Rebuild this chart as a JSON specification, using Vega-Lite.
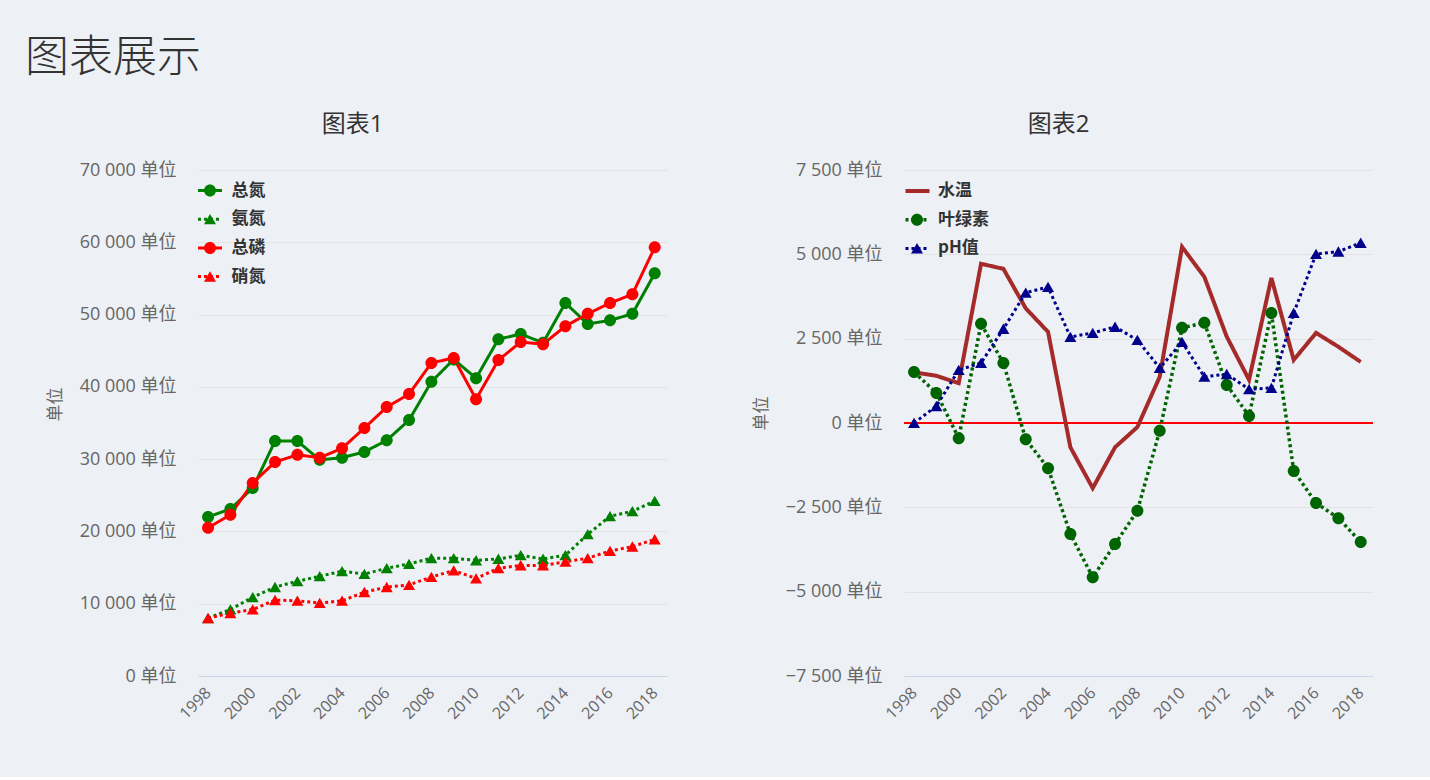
{
  "$schema": "https://vega.github.io/schema/vega-lite/v6.json",
  "background": "#edf0f5",
  "padding": {"left": 25, "top": 37, "right": 59, "bottom": 55},
  "title": {"text": "图表展示", "anchor": "start", "dx": -21, "fontSize": 44, "font": "Noto Sans CJK SC", "fontWeight": 300, "color": "#333333", "offset": 32},
  "config": {
    "view": {"stroke": null},
    "font": "Open Sans, Noto Sans CJK SC",
    "axis": {"labelColor": "#666666", "titleColor": "#666666", "labelFont": "Open Sans, Noto Sans CJK SC", "titleFont": "Noto Sans CJK SC"},
    "legend": {"labelFont": "Noto Sans CJK SC", "labelColor": "#333333", "clipHeight": 28, "rowPadding": 0.7, "padding": 0, "labelFontSize": 17, "labelFontWeight": "bold", "symbolSize": 576, "symbolStrokeWidth": 3}
  },
  "datasets": {
    "left": [
      {"year": 1998, "series": "总氮", "value": 22000}, {"year": 1999, "series": "总氮", "value": 23100}, {"year": 2000, "series": "总氮", "value": 26000}, {"year": 2001, "series": "总氮", "value": 32500}, {"year": 2002, "series": "总氮", "value": 32500}, {"year": 2003, "series": "总氮", "value": 29900}, {"year": 2004, "series": "总氮", "value": 30200}, {"year": 2005, "series": "总氮", "value": 31000}, {"year": 2006, "series": "总氮", "value": 32600}, {"year": 2007, "series": "总氮", "value": 35400}, {"year": 2008, "series": "总氮", "value": 40700}, {"year": 2009, "series": "总氮", "value": 43800}, {"year": 2010, "series": "总氮", "value": 41200}, {"year": 2011, "series": "总氮", "value": 46600}, {"year": 2012, "series": "总氮", "value": 47300}, {"year": 2013, "series": "总氮", "value": 46100}, {"year": 2014, "series": "总氮", "value": 51600}, {"year": 2015, "series": "总氮", "value": 48700}, {"year": 2016, "series": "总氮", "value": 49200}, {"year": 2017, "series": "总氮", "value": 50100}, {"year": 2018, "series": "总氮", "value": 55700},
      {"year": 1998, "series": "氨氮", "value": 8000}, {"year": 1999, "series": "氨氮", "value": 9200}, {"year": 2000, "series": "氨氮", "value": 10900}, {"year": 2001, "series": "氨氮", "value": 12300}, {"year": 2002, "series": "氨氮", "value": 13100}, {"year": 2003, "series": "氨氮", "value": 13800}, {"year": 2004, "series": "氨氮", "value": 14500}, {"year": 2005, "series": "氨氮", "value": 14100}, {"year": 2006, "series": "氨氮", "value": 14900}, {"year": 2007, "series": "氨氮", "value": 15500}, {"year": 2008, "series": "氨氮", "value": 16300}, {"year": 2009, "series": "氨氮", "value": 16300}, {"year": 2010, "series": "氨氮", "value": 16000}, {"year": 2011, "series": "氨氮", "value": 16200}, {"year": 2012, "series": "氨氮", "value": 16700}, {"year": 2013, "series": "氨氮", "value": 16200}, {"year": 2014, "series": "氨氮", "value": 16700}, {"year": 2015, "series": "氨氮", "value": 19600}, {"year": 2016, "series": "氨氮", "value": 22100}, {"year": 2017, "series": "氨氮", "value": 22800}, {"year": 2018, "series": "氨氮", "value": 24200},
      {"year": 1998, "series": "总磷", "value": 20500}, {"year": 1999, "series": "总磷", "value": 22300}, {"year": 2000, "series": "总磷", "value": 26700}, {"year": 2001, "series": "总磷", "value": 29600}, {"year": 2002, "series": "总磷", "value": 30600}, {"year": 2003, "series": "总磷", "value": 30200}, {"year": 2004, "series": "总磷", "value": 31500}, {"year": 2005, "series": "总磷", "value": 34300}, {"year": 2006, "series": "总磷", "value": 37200}, {"year": 2007, "series": "总磷", "value": 39000}, {"year": 2008, "series": "总磷", "value": 43300}, {"year": 2009, "series": "总磷", "value": 44000}, {"year": 2010, "series": "总磷", "value": 38300}, {"year": 2011, "series": "总磷", "value": 43700}, {"year": 2012, "series": "总磷", "value": 46200}, {"year": 2013, "series": "总磷", "value": 45900}, {"year": 2014, "series": "总磷", "value": 48400}, {"year": 2015, "series": "总磷", "value": 50100}, {"year": 2016, "series": "总磷", "value": 51600}, {"year": 2017, "series": "总磷", "value": 52800}, {"year": 2018, "series": "总磷", "value": 59300},
      {"year": 1998, "series": "硝氮", "value": 8000}, {"year": 1999, "series": "硝氮", "value": 8700}, {"year": 2000, "series": "硝氮", "value": 9200}, {"year": 2001, "series": "硝氮", "value": 10500}, {"year": 2002, "series": "硝氮", "value": 10400}, {"year": 2003, "series": "硝氮", "value": 10100}, {"year": 2004, "series": "硝氮", "value": 10400}, {"year": 2005, "series": "硝氮", "value": 11600}, {"year": 2006, "series": "硝氮", "value": 12300}, {"year": 2007, "series": "硝氮", "value": 12600}, {"year": 2008, "series": "硝氮", "value": 13700}, {"year": 2009, "series": "硝氮", "value": 14600}, {"year": 2010, "series": "硝氮", "value": 13500}, {"year": 2011, "series": "硝氮", "value": 14900}, {"year": 2012, "series": "硝氮", "value": 15300}, {"year": 2013, "series": "硝氮", "value": 15300}, {"year": 2014, "series": "硝氮", "value": 15800}, {"year": 2015, "series": "硝氮", "value": 16300}, {"year": 2016, "series": "硝氮", "value": 17300}, {"year": 2017, "series": "硝氮", "value": 17900}, {"year": 2018, "series": "硝氮", "value": 18900}
    ],
    "right": [
      {"year": 1998, "series": "水温", "value": 1500}, {"year": 1999, "series": "水温", "value": 1400}, {"year": 2000, "series": "水温", "value": 1180}, {"year": 2001, "series": "水温", "value": 4720}, {"year": 2002, "series": "水温", "value": 4570}, {"year": 2003, "series": "水温", "value": 3400}, {"year": 2004, "series": "水温", "value": 2700}, {"year": 2005, "series": "水温", "value": -720}, {"year": 2006, "series": "水温", "value": -1930}, {"year": 2007, "series": "水温", "value": -720}, {"year": 2008, "series": "水温", "value": -120}, {"year": 2009, "series": "水温", "value": 1370}, {"year": 2010, "series": "水温", "value": 5220}, {"year": 2011, "series": "水温", "value": 4330}, {"year": 2012, "series": "水温", "value": 2560}, {"year": 2013, "series": "水温", "value": 1280}, {"year": 2014, "series": "水温", "value": 4300}, {"year": 2015, "series": "水温", "value": 1870}, {"year": 2016, "series": "水温", "value": 2670}, {"year": 2017, "series": "水温", "value": 2260}, {"year": 2018, "series": "水温", "value": 1810},
      {"year": 1998, "series": "叶绿素", "value": 1510}, {"year": 1999, "series": "叶绿素", "value": 890}, {"year": 2000, "series": "叶绿素", "value": -450}, {"year": 2001, "series": "叶绿素", "value": 2940}, {"year": 2002, "series": "叶绿素", "value": 1780}, {"year": 2003, "series": "叶绿素", "value": -480}, {"year": 2004, "series": "叶绿素", "value": -1340}, {"year": 2005, "series": "叶绿素", "value": -3290}, {"year": 2006, "series": "叶绿素", "value": -4570}, {"year": 2007, "series": "叶绿素", "value": -3590}, {"year": 2008, "series": "叶绿素", "value": -2600}, {"year": 2009, "series": "叶绿素", "value": -230}, {"year": 2010, "series": "叶绿素", "value": 2820}, {"year": 2011, "series": "叶绿素", "value": 2970}, {"year": 2012, "series": "叶绿素", "value": 1130}, {"year": 2013, "series": "叶绿素", "value": 210}, {"year": 2014, "series": "叶绿素", "value": 3260}, {"year": 2015, "series": "叶绿素", "value": -1420}, {"year": 2016, "series": "叶绿素", "value": -2370}, {"year": 2017, "series": "叶绿素", "value": -2820}, {"year": 2018, "series": "叶绿素", "value": -3530},
      {"year": 1998, "series": "pH值", "value": 0}, {"year": 1999, "series": "pH值", "value": 500}, {"year": 2000, "series": "pH值", "value": 1570}, {"year": 2001, "series": "pH值", "value": 1780}, {"year": 2002, "series": "pH值", "value": 2790}, {"year": 2003, "series": "pH值", "value": 3860}, {"year": 2004, "series": "pH值", "value": 4030}, {"year": 2005, "series": "pH值", "value": 2550}, {"year": 2006, "series": "pH值", "value": 2670}, {"year": 2007, "series": "pH值", "value": 2850}, {"year": 2008, "series": "pH值", "value": 2460}, {"year": 2009, "series": "pH值", "value": 1630}, {"year": 2010, "series": "pH值", "value": 2400}, {"year": 2011, "series": "pH值", "value": 1370}, {"year": 2012, "series": "pH值", "value": 1450}, {"year": 2013, "series": "pH值", "value": 1000}, {"year": 2014, "series": "pH值", "value": 1040}, {"year": 2015, "series": "pH值", "value": 3260}, {"year": 2016, "series": "pH值", "value": 5010}, {"year": 2017, "series": "pH值", "value": 5080}, {"year": 2018, "series": "pH值", "value": 5340}
    ],
    "zero": [{"y": 0}]
  },
  "spacing": 85,
  "hconcat": [
    {
      "width": 469,
      "height": 506,
      "title": {"text": "图表1", "anchor": "middle", "dx": -80, "fontSize": 24, "fontWeight": "normal", "color": "#333333", "font": "Open Sans, Noto Sans CJK SC", "offset": 24},
      "data": {"name": "left"},
      "encoding": {
        "x": {"field": "year", "type": "quantitative", "scale": {"domain": [1997.55, 2018.55], "nice": false, "zero": false},
          "axis": {"values": [1998, 2000, 2002, 2004, 2006, 2008, 2010, 2012, 2014, 2016, 2018], "format": "d", "title": null, "grid": false, "ticks": false, "domainColor": "#ccd6eb", "labelAngle": -45, "labelAlign": "right", "labelBaseline": "middle", "labelFontSize": 16, "labelPadding": 14}},
        "y": {"field": "value", "type": "quantitative", "scale": {"domain": [0, 70000], "nice": false},
          "axis": {"values": [0, 10000, 20000, 30000, 40000, 50000, 60000, 70000], "labelExpr": "replace(format(datum.value, ','), ',', ' ') + ' 单位'", "title": "单位", "titleX": -134, "titleY": 234, "titleFontSize": 17, "titleFontWeight": "normal", "domain": false, "ticks": false, "labelPadding": 22, "labelFontSize": 18, "gridColor": "#e3e3e3"}}
      },
      "layer": [
        {
          "mark": {"type": "line", "strokeWidth": 3},
          "encoding": {
            "color": {"field": "series", "type": "nominal", "scale": {"domain": ["总氮", "氨氮", "总磷", "硝氮"], "range": ["#008000", "#008000", "#ff0000", "#ff0000"]},
              "legend": {"orient": "none", "legendX": -1.5, "legendY": 6.5, "title": null, "symbolType": "stroke", "labelOffset": 8}},
            "strokeDash": {"field": "series", "type": "nominal", "scale": {"domain": ["总氮", "氨氮", "总磷", "硝氮"], "range": [[1, 0], [3, 3], [1, 0], [3, 3]]},
              "legend": {"orient": "none", "legendX": -1.5, "legendY": 6.5, "title": null, "symbolType": "stroke", "labelOffset": 8}}
          }
        },
        {
          "mark": {"type": "point", "filled": true, "size": 576, "opacity": 1},
          "encoding": {
            "color": {"field": "series", "type": "nominal", "scale": {"domain": ["总氮", "氨氮", "总磷", "硝氮"], "range": ["#008000", "#008000", "#ff0000", "#ff0000"]},
              "legend": {"orient": "none", "legendX": -1.5, "legendY": 6.5, "title": null, "symbolStrokeColor": "transparent", "labelOffset": 8, "labelOpacity": 0}},
            "shape": {"field": "series", "type": "nominal", "scale": {"domain": ["总氮", "氨氮", "总磷", "硝氮"], "range": ["M-0.5,0A0.5,0.5,0,1,0,0.5,0A0.5,0.5,0,1,0,-0.5,0Z", "M0,-0.44L0.5,0.42L-0.5,0.42Z", "M-0.5,0A0.5,0.5,0,1,0,0.5,0A0.5,0.5,0,1,0,-0.5,0Z", "M0,-0.44L0.5,0.42L-0.5,0.42Z"]},
              "legend": {"orient": "none", "legendX": -1.5, "legendY": 6.5, "title": null, "symbolStrokeColor": "transparent", "labelOffset": 8, "labelOpacity": 0}}
          }
        }
      ],
      "resolve": {"scale": {"color": "independent", "strokeDash": "independent", "shape": "independent"}}
    },
    {
      "width": 469,
      "height": 506,
      "title": {"text": "图表2", "anchor": "middle", "dx": -80, "fontSize": 24, "fontWeight": "normal", "color": "#333333", "font": "Open Sans, Noto Sans CJK SC", "offset": 24},
      "encoding": {
        "x": {"field": "year", "type": "quantitative", "scale": {"domain": [1997.55, 2018.55], "nice": false, "zero": false},
          "axis": {"values": [1998, 2000, 2002, 2004, 2006, 2008, 2010, 2012, 2014, 2016, 2018], "format": "d", "title": null, "grid": false, "ticks": false, "domainColor": "#ccd6eb", "labelAngle": -45, "labelAlign": "right", "labelBaseline": "middle", "labelFontSize": 16, "labelPadding": 14}},
        "y": {"field": "value", "type": "quantitative", "scale": {"domain": [-7500, 7500], "nice": false},
          "axis": {"values": [-7500, -5000, -2500, 0, 2500, 5000, 7500], "labelExpr": "replace(format(datum.value, ','), ',', ' ') + ' 单位'", "title": "单位", "titleX": -134, "titleY": 243, "titleFontSize": 17, "titleFontWeight": "normal", "domain": false, "ticks": false, "labelPadding": 22, "labelFontSize": 18, "gridColor": "#e3e3e3"}}
      },
      "layer": [
        {
          "data": {"name": "zero"},
          "mark": {"type": "rule", "color": "#ff0000", "strokeWidth": 2},
          "encoding": {"y": {"field": "y", "type": "quantitative"}, "x": null}
        },
        {
          "data": {"name": "right"},
          "mark": {"type": "line"},
          "encoding": {
            "color": {"field": "series", "type": "nominal", "scale": {"domain": ["水温", "叶绿素", "pH值"], "range": ["#a52a2a", "#006400", "#00008b"]},
              "legend": {"orient": "none", "legendX": -0.5, "legendY": 7, "title": null, "symbolType": "stroke", "labelOffset": 6.5}},
            "strokeDash": {"field": "series", "type": "nominal", "scale": {"domain": ["水温", "叶绿素", "pH值"], "range": [[1, 0], [3, 3], [3, 3]]},
              "legend": {"orient": "none", "legendX": -0.5, "legendY": 7, "title": null, "symbolType": "stroke", "labelOffset": 6.5}},
            "strokeWidth": {"field": "series", "type": "nominal", "scale": {"domain": ["水温", "叶绿素", "pH值"], "range": [4, 3, 3]}, "legend": null}
          }
        },
        {
          "data": {"name": "right"},
          "transform": [{"filter": "datum.series !== '水温'"}],
          "mark": {"type": "point", "filled": true, "size": 576, "opacity": 1},
          "encoding": {
            "color": {"field": "series", "type": "nominal", "scale": {"domain": ["水温", "叶绿素", "pH值"], "range": ["#a52a2a", "#006400", "#00008b"]},
              "legend": {"orient": "none", "legendX": -0.5, "legendY": 7, "title": null, "symbolStrokeColor": "transparent", "labelOffset": 6.5, "labelOpacity": 0}},
            "shape": {"field": "series", "type": "nominal", "scale": {"domain": ["水温", "叶绿素", "pH值"], "range": ["M0,0", "M-0.5,0A0.5,0.5,0,1,0,0.5,0A0.5,0.5,0,1,0,-0.5,0Z", "M0,-0.44L0.5,0.42L-0.5,0.42Z"]},
              "legend": {"orient": "none", "legendX": -0.5, "legendY": 7, "title": null, "symbolStrokeColor": "transparent", "labelOffset": 6.5, "labelOpacity": 0}}
          }
        }
      ],
      "resolve": {"scale": {"color": "independent", "strokeDash": "independent", "shape": "independent", "strokeWidth": "independent"}}
    }
  ]
}
